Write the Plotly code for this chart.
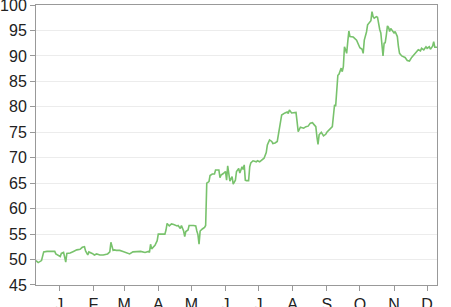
import pandas as pd
import plotly.graph_objects as go

start_date = "2013-12-11"
day_offsets = [0, 2, 5, 7, 10, 17, 18, 20, 22, 23, 25, 26, 27, 28, 31, 34, 37, 40, 42, 44,
               45, 47, 48, 51, 53, 55, 58, 61, 65, 67, 68, 70, 71, 73, 76, 79, 82, 85, 88, 92,
               95, 99, 102, 103, 104, 105, 107, 108, 110, 111, 113, 117, 118, 119, 121, 123, 125, 128, 129, 131,
               132, 134, 135, 136, 138, 139, 143, 145, 146, 147, 148, 149, 151, 153, 154, 155, 157, 158, 160, 162,
               163, 166, 167, 168, 170, 172, 173, 174, 176, 178, 179, 181, 182, 184, 185, 187, 188, 189, 190, 191,
               193, 194, 195, 197, 200, 201, 203, 205, 207, 209, 210, 212, 214, 215, 217, 219, 220, 222, 223, 226,
               228, 229, 230, 232, 234, 236, 237, 238, 240, 243, 245, 247, 249, 251, 252, 254, 255, 256, 257, 259,
               261, 263, 264, 266, 268, 269, 271, 272, 274, 275, 277, 278, 279, 280, 281, 282, 283, 284, 285, 286,
               288, 291, 292, 294, 296, 297, 298, 300, 301, 303, 304, 305, 306, 307, 309, 310, 311, 312, 313, 314,
               315, 316, 317, 318, 319, 320, 321, 322, 323, 325, 326, 328, 329, 330, 332, 335, 337, 339, 341, 343,
               345, 347, 349, 350, 352, 354, 355, 357, 358, 360, 361, 362, 364]
prices = [49.8, 49.4, 49.8, 51.5, 51.6, 51.6, 51.1, 50.9, 50.6, 51.2, 51.4, 50.5, 49.5, 51.2, 51.3, 51.6, 51.9, 52.0, 52.4, 52.5,
          51.7, 50.9, 51.5, 51.2, 50.9, 51.1, 50.9, 50.9, 51.1, 51.5, 53.4, 51.8, 51.9, 51.8, 51.8, 51.6, 51.3, 51.1, 51.5, 51.5,
          51.6, 51.4, 51.6, 51.4, 53.0, 52.1, 52.5, 52.8, 53.7, 55.0, 55.0, 55.0, 55.8, 57.1, 56.6, 57.0, 56.9, 56.6, 56.7, 56.1,
          56.7, 55.6, 54.5, 55.5, 55.8, 56.7, 56.7, 56.6, 55.6, 54.9, 53.0, 55.6, 56.0, 56.3, 56.7, 65.0, 65.3, 66.5, 66.8, 66.8,
          67.6, 67.6, 66.1, 66.6, 66.9, 67.3, 65.6, 68.4, 65.4, 66.3, 64.8, 65.6, 67.3, 67.9, 67.0, 68.2, 67.7, 68.6, 65.6, 65.5,
          65.5, 68.2, 69.0, 69.4, 69.2, 69.4, 69.2, 69.5, 69.9, 71.0, 72.5, 73.5, 73.2, 72.8, 72.9, 73.2, 74.5, 77.1, 78.4, 78.8,
          79.0, 78.7, 79.4, 78.8, 78.9, 78.9, 77.1, 75.1, 76.0, 75.8, 76.1, 76.2, 76.8, 76.9, 76.6, 76.1, 74.1, 72.6, 74.5, 75.0,
          74.3, 74.6, 75.0, 75.4, 75.8, 76.1, 80.4, 80.1, 86.2, 86.4, 87.6, 86.9, 87.9, 91.8, 91.2, 90.5, 92.8, 94.9, 93.8, 93.8,
          93.7, 93.1, 92.5, 91.6, 91.3, 90.5, 93.1, 94.7, 96.1, 96.7, 96.9, 98.7, 97.7, 97.4, 97.7, 97.6, 96.1, 95.2, 94.5, 91.8,
          90.0, 92.5, 92.6, 94.1, 95.9, 95.6, 94.8, 95.4, 95.1, 94.5, 94.8, 93.8, 91.8, 90.5, 90.0, 89.7, 89.1, 89.0, 89.7, 90.2,
          90.5, 91.2, 91.0, 91.5, 91.2, 91.8, 91.5, 91.8, 91.3, 91.9, 92.8, 91.7, 91.7]

month_ticks = ["2014-01-01", "2014-02-01", "2014-03-01", "2014-04-01", "2014-05-01", "2014-06-01",
               "2014-07-01", "2014-08-01", "2014-09-01", "2014-10-01", "2014-11-01", "2014-12-01"]
month_labels = ["J", "F", "M", "A", "M", "J", "J", "A", "S", "O", "N", "D"]
y_ticks = [45, 50, 55, 60, 65, 70, 75, 80, 85, 90, 95, 100]

dates = pd.Timestamp(start_date) + pd.to_timedelta(day_offsets, unit="D")

fig = go.Figure()
fig.add_trace(go.Scatter(x=dates, y=prices, mode="lines",
                         line=dict(color="#78c26c", width=1.6), hoverinfo="skip"))

fig.update_layout(
    width=451, height=307,
    margin=dict(l=36, r=14, t=5, b=22),
    paper_bgcolor="white", plot_bgcolor="white",
    showlegend=False,
    font=dict(family="Liberation Sans, Arial, sans-serif", size=16, color="#222"),
)
fig.update_xaxes(
    range=[dates[0], dates[-1]],
    tickvals=month_ticks, ticktext=month_labels,
    ticks="outside", ticklen=5, tickcolor="#999",
    showline=True, linecolor="#999", linewidth=1, mirror=True,
    showgrid=False, zeroline=False,
    tickfont=dict(size=16), automargin=False,
)
fig.update_yaxes(
    range=[44.999, 100.001], tickvals=y_ticks,
    ticks="outside", ticklen=5, tickcolor="#999",
    showline=True, linecolor="#999", linewidth=1, mirror=True,
    showgrid=True, gridcolor="#ececec", gridwidth=1, zeroline=False,
    tickfont=dict(size=16), ticklabeloverflow="allow", automargin=False,
)

fig.write_html("out.html")
